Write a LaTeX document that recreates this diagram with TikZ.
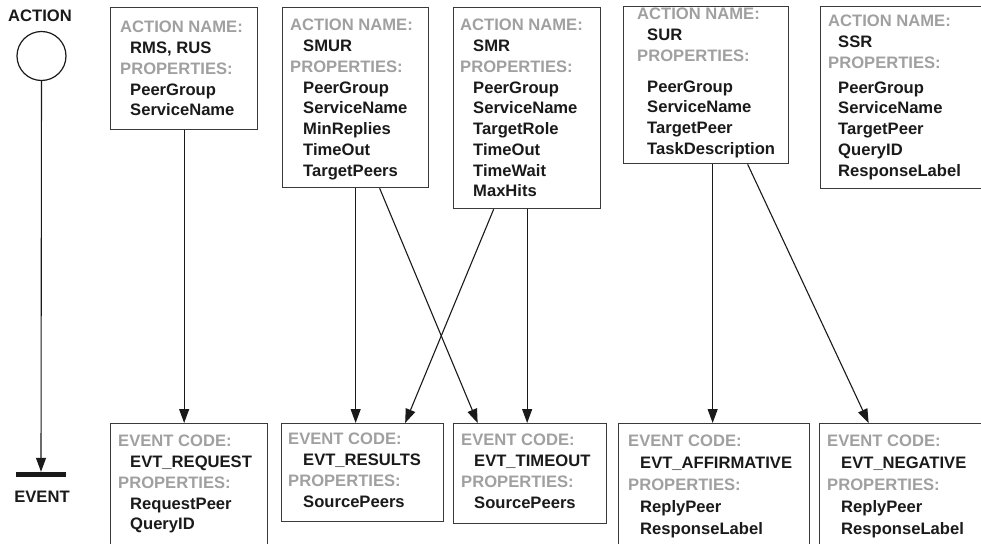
\documentclass[tikz,border=0pt]{standalone}
\usepackage{fontspec}
\setmainfont{Liberation Sans}
\usetikzlibrary{arrows.meta,calc}
\definecolor{lbl}{HTML}{A0A0A0}
\definecolor{ink}{HTML}{1A1A1A}
\definecolor{edge}{HTML}{3A3A3A}
\tikzset{
  box/.style={draw=edge, line width=1.3pt, inner sep=0pt, anchor=north west},
  txt/.style={inner sep=0pt, anchor=north west, align=left, text=ink,
    font=\bfseries\fontsize{16.6}{20.75}\selectfont},
  widetxt/.style={txt, font=\bfseries\fontsize{16.6}{22}\selectfont},
  tag/.style={inner sep=0pt, text=ink, font=\bfseries\fontsize{16.6}{20.6}\selectfont},
  flow/.style={line width=1.1pt, draw=ink, -{Triangle[length=14pt,width=10pt]}},
}
\newcommand{\hd}[1]{\textcolor{lbl}{#1}}
\newcommand{\vl}[2]{\hspace*{#1pt}#2}
\begin{document}
\begin{tikzpicture}[x=1pt,y=-1pt]
\useasboundingbox (0,0) rectangle (981,543);
\clip (0,0) rectangle (981,543);

% action / event legend
\node[tag] (actlbl) at (40,16) {ACTION};
\node[draw=ink, line width=1.2pt, circle, minimum size=49pt, inner sep=0pt] (act) at (41.5,56) {};
\node[fill=ink, minimum width=50pt, minimum height=5pt, inner sep=0pt] (bar) at (41,474.5) {};
\node[tag] (evtlbl) at (42,497) {EVENT};
\draw[flow] (act.south) -- (bar.north);

% action boxes
\node[box, minimum width=147pt, minimum height=122pt] (rms) at (110,7) {};
\node[txt] (rms-t) at (120,21) {\hd{ACTION NAME:}\\\vl{10}{RMS, RUS}\\\hd{PROPERTIES:}\\\vl{10}{PeerGroup}\\\vl{10}{ServiceName}};

\node[box, minimum width=146pt, minimum height=180pt] (smur) at (282,7) {};
\node[txt] (smur-t) at (290,19) {\hd{ACTION NAME:}\\\vl{13}{SMUR}\\\hd{PROPERTIES:}\\\vl{13}{PeerGroup}\\\vl{13}{ServiceName}\\\vl{13}{MinReplies}\\\vl{13}{TimeOut}\\\vl{13}{TargetPeers}};

\node[box, minimum width=147pt, minimum height=201pt] (smr) at (453,7) {};
\node[txt] (smr-t) at (460,19) {\hd{ACTION NAME:}\\\vl{13}{SMR}\\\hd{PROPERTIES:}\\\vl{13}{PeerGroup}\\\vl{13}{ServiceName}\\\vl{13}{TargetRole}\\\vl{13}{TimeOut}\\\vl{13}{TimeWait}\\\vl{13}{MaxHits}};

\node[box, minimum width=165pt, minimum height=157pt] (sur) at (623,6) {};
\node[txt] (sur-t) at (637,8) {\hd{ACTION NAME:}\\\vl{10}{SUR}\\\hd{PROPERTIES:}\\[10pt]\vl{10}{PeerGroup}\\\vl{10}{ServiceName}\\\vl{10}{TargetPeer}\\\vl{10}{TaskDescription}};

\node[box, minimum width=180pt, minimum height=182pt] (ssr) at (820,6) {};
\node[txt] (ssr-t) at (828,15) {\hd{ACTION NAME:}\\\vl{10}{SSR}\\\hd{PROPERTIES:}\\[4pt]\vl{10}{PeerGroup}\\\vl{10}{ServiceName}\\\vl{10}{TargetPeer}\\\vl{10}{QueryID}\\\vl{10}{ResponseLabel}};

% event boxes
\node[box, minimum width=157pt, minimum height=140pt] (req) at (110,423) {};
\node[txt] (req-t) at (118,435) {\hd{EVENT CODE:}\\\vl{12}{EVT\_REQUEST}\\\hd{PROPERTIES:}\\\vl{12}{RequestPeer}\\\vl{12}{QueryID}};

\node[box, minimum width=162pt, minimum height=98pt] (res) at (281,423) {};
\node[txt] (res-t) at (288,433) {\hd{EVENT CODE:}\\\vl{15}{EVT\_RESULTS}\\\hd{PROPERTIES:}\\\vl{15}{SourcePeers}};

\node[box, minimum width=153pt, minimum height=100pt] (tmo) at (453,423) {};
\node[txt] (tmo-t) at (461,434) {\hd{EVENT CODE:}\\\vl{13}{EVT\_TIMEOUT}\\\hd{PROPERTIES:}\\\vl{13}{SourcePeers}};

\node[box, minimum width=191pt, minimum height=140pt] (aff) at (618,423) {};
\node[widetxt] (aff-t) at (628,435) {\hd{EVENT CODE:}\\\vl{12}{EVT\_AFFIRMATIVE}\\\hd{PROPERTIES:}\\\vl{12}{ReplyPeer}\\\vl{12}{ResponseLabel}};

\node[box, minimum width=180pt, minimum height=140pt] (neg) at (819,423) {};
\node[widetxt] (neg-t) at (827,435) {\hd{EVENT CODE:}\\\vl{14}{EVT\_NEGATIVE}\\\hd{PROPERTIES:}\\\vl{14}{ReplyPeer}\\\vl{14}{ResponseLabel}};

% connectors from actions to the events they raise
\draw[flow] (rms.south) -- (rms.south |- req.north);
\draw[flow] (smur.south) -- (smur.south |- res.north);
\draw[flow] ([xshift=24pt]smur.south) -- ([xshift=-52.5pt]tmo.north);
\draw[flow] ([xshift=-33.5pt]smr.south) -- ([xshift=42.5pt]res.north);
\draw[flow] (smr.south) -- (smr.south |- tmo.north);
\draw[flow] ([xshift=6.5pt]sur.south) -- ([xshift=6.5pt]sur.south |- aff.north);
\draw[flow] ([xshift=41.5pt]sur.south) -- ([xshift=-41pt]neg.north);
\end{tikzpicture}
\end{document}
